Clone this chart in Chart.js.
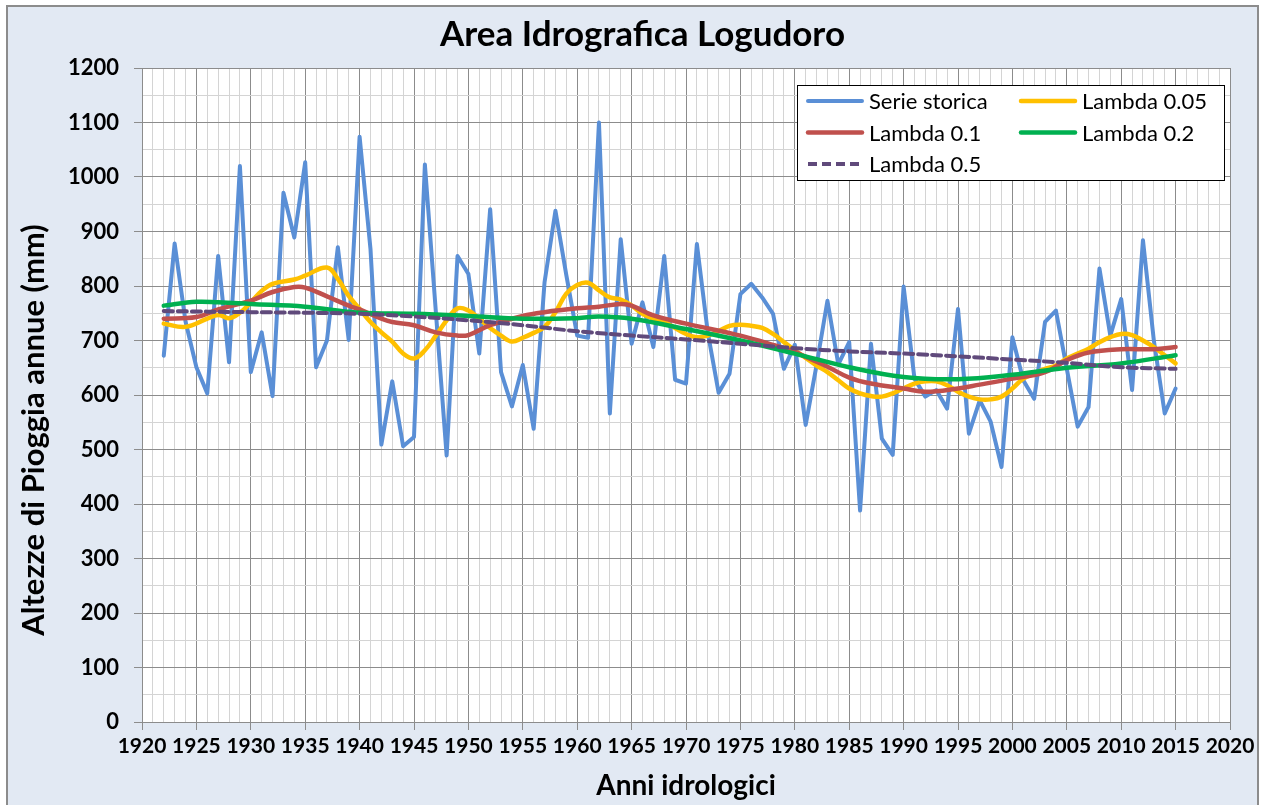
<!DOCTYPE html>
<html>
<head>
<meta charset="utf-8">
<title>Area Idrografica Logudoro</title>
<script src="https://cdn.jsdelivr.net/npm/chart.js@4.4.1/dist/chart.umd.min.js"></script>
<style>
  html, body { margin: 0; padding: 0; background: #ffffff; }
  canvas { display: block; }
</style>
</head>
<body>
<canvas id="grafico" width="1265" height="805"></canvas>
<script>
// === Dati ===
const annoInizio = 1922;
const serieStorica = [
  672, 878, 735, 651, 603, 855, 660, 1020, 642, 715,
  598, 971, 889, 1027, 651, 700, 871, 701, 1074, 868,
  509, 625, 506, 523, 1023, 755, 489, 855, 822, 676,
  941, 642, 579, 655, 538, 807, 938, 820, 709, 705,
  1100, 566, 886, 694, 770, 688, 855, 628, 621, 877,
  715, 604, 639, 785, 804, 779, 749, 648, 692, 545,
  655, 773, 656, 697, 388, 694, 520, 490, 799, 630,
  597, 609, 575, 758, 529, 590, 551, 468, 706, 627,
  593, 734, 755, 648, 542, 578, 832, 709, 776, 609,
  884, 700, 566, 612
];

const anniL005 = [1922, 1924, 1926, 1927, 1928, 1929, 1930, 1931, 1932, 1934, 1935, 1937, 1938, 1939, 1940,
  1941, 1942, 1943, 1944, 1945, 1946, 1947, 1948, 1949, 1950, 1951, 1952, 1953, 1954, 1955, 1956, 1957,
  1958, 1959, 1960, 1961, 1962, 1963, 1964, 1965, 1966, 1967, 1968, 1969, 1970, 1971, 1972, 1973, 1974,
  1975, 1976, 1977, 1978, 1979, 1980, 1981, 1982, 1983, 1984, 1985, 1986, 1987, 1988, 1989, 1990, 1991,
  1992, 1993, 1994, 1995, 1996, 1997, 1998, 1999, 2000, 2001, 2002, 2003, 2004, 2005, 2006, 2007, 2008,
  2009, 2010, 2011, 2012, 2013, 2014, 2015];
const lambda005 = [731, 725, 740, 747, 741, 751, 770, 791, 804, 812, 819, 834, 813, 782, 758,
  734, 715, 698, 676, 667, 682, 709, 737, 759, 755, 740, 723, 709, 698, 705, 714, 725,
  752, 786, 802, 806, 792, 779, 775, 764, 749, 740, 734, 723, 712, 706, 709, 717, 727,
  729, 727, 723, 712, 697, 682, 668, 654, 642, 627, 612, 603, 598, 597, 603, 612, 621,
  625, 625, 618, 606, 597, 592, 592, 597, 612, 630, 639, 648, 654, 667, 676, 685, 697,
  706, 712, 710, 700, 688, 673, 658];

const anniL01 = [1922, 1925, 1927, 1930, 1932, 1934, 1935, 1937, 1939, 1940, 1942, 1943, 1945, 1947, 1949,
  1950, 1952, 1955, 1957, 1960, 1962, 1964, 1965, 1967, 1970, 1975, 1978, 1980, 1981, 1983, 1985, 1987,
  1990, 1992, 1995, 1997, 2000, 2003, 2005, 2007, 2010, 2013, 2015];
const lambda01 = [740, 743, 757, 773, 789, 798, 797, 781, 764, 757, 740, 734, 728, 715, 709,
  710, 728, 745, 752, 759, 762, 767, 764, 746, 731, 709, 692, 679, 670, 652, 632, 621,
  612, 606, 612, 619, 630, 642, 664, 678, 684, 684, 688];

const anniL02 = [1922, 1925, 1927, 1930, 1935, 1940, 1945, 1950, 1955, 1960, 1962, 1965, 1970, 1975, 1980,
  1985, 1990, 1995, 2000, 2005, 2010, 2015];
const lambda02 = [764, 771, 770, 767, 762, 751, 749, 745, 740, 741, 744, 740, 721, 700, 676,
  651, 633, 629, 637, 650, 658, 673];

const anniL05 = [1922, 1930, 1935, 1940, 1945, 1950, 1955, 1960, 1965, 1970, 1975, 1980, 1985, 1990, 1995,
  2000, 2005, 2010, 2015];
const lambda05 = [754, 752, 751, 749, 744, 737, 728, 717, 709, 702, 694, 686, 680, 676, 671,
  665, 659, 651, 648];

const tickAnni = { min: 1920, max: 2020, passo: 1, etichetta: 5 };
const tickValori = { min: 0, max: 1200, passo: 50, etichetta: 100 };
const titoloY = 'Altezze di Pioggia annue (mm)';

// coppie {x, y}
const punti = (anni, valori) => valori.map((v, i) => ({ x: anni[i], y: v }));
const puntiSerie = serieStorica.map((v, i) => ({ x: annoInizio + i, y: v }));

// === Sfondo (cornice azzurra + area bianca) ===
const sfondo = {
  id: 'sfondo',
  beforeDraw(chart) {
    const { ctx, chartArea: a, width, height } = chart;
    ctx.save();
    ctx.fillStyle = '#ffffff';
    ctx.fillRect(0, 0, width, height);
    ctx.fillStyle = '#E2E9F3';
    ctx.fillRect(7, 6, width - 14, height);
    ctx.strokeStyle = '#8C8C8C';
    ctx.lineWidth = 2;
    ctx.strokeRect(7, 6, width - 14, height + 10);
    ctx.fillStyle = '#ffffff';
    ctx.fillRect(a.left, a.top, a.right - a.left, a.bottom - a.top);
    ctx.restore();
  }
};

// titolo asse Y (centrato sulla cornice, come in Excel)
const titoloAsseY = {
  id: 'titoloAsseY',
  afterDraw(chart) {
    const { ctx } = chart;
    ctx.save();
    ctx.translate(34, 430);
    ctx.rotate(-Math.PI / 2);
    ctx.font = 'bold 31px Lato';
    ctx.fillStyle = '#000000';
    ctx.textAlign = 'center';
    ctx.textBaseline = 'middle';
    ctx.fillText(titoloY, 0, 0);
    ctx.restore();
  }
};

// === Legenda interna su due colonne ===
const legendaInterna = {
  id: 'legendaInterna',
  afterDraw(chart) {
    const { ctx, chartArea: a } = chart;
    const box = { x: a.right - 6, y: a.top + 17, w: 427, h: 95 };
    const left = box.x - box.w;
    ctx.save();
    ctx.fillStyle = '#ffffff';
    ctx.fillRect(left, box.y, box.w, box.h);
    ctx.strokeStyle = '#000000';
    ctx.lineWidth = 1;
    ctx.strokeRect(left + 0.5, box.y + 0.5, box.w, box.h);
    ctx.font = '22px Lato';
    ctx.textBaseline = 'middle';
    ctx.fillStyle = '#000000';
    chart.data.datasets.forEach((ds, i) => {
      const col = i % 2, row = Math.floor(i / 2);
      const x0 = left + 11 + col * 213;
      const y0 = box.y + 16 + row * 31.5;
      ctx.beginPath();
      ctx.strokeStyle = ds.borderColor;
      ctx.lineWidth = ds.borderWidth;
      ctx.lineCap = ds.borderDash ? 'butt' : 'round';
      ctx.setLineDash(ds.borderDash || []);
      ctx.moveTo(x0, y0);
      ctx.lineTo(x0 + 54, y0);
      ctx.stroke();
      ctx.setLineDash([]);
      ctx.fillText(ds.label, x0 + 61, y0 + 1);
    });
    ctx.restore();
  }
};

const grigioScuro = '#8C8C8C';
const grigioChiaro = '#D4D4D4';

new Chart(document.getElementById('grafico'), {
  type: 'line',
  data: {
    datasets: [
      { label: 'Serie storica', data: puntiSerie, borderColor: '#5A8FD6', borderWidth: 4, tension: 0, order: 5 },
      { label: 'Lambda 0.05', data: punti(anniL005, lambda005), borderColor: '#FFC000', borderWidth: 4.5, tension: 0.4, order: 4 },
      { label: 'Lambda 0.1', data: punti(anniL01, lambda01), borderColor: '#C0504D', borderWidth: 4.5, tension: 0.4, order: 3 },
      { label: 'Lambda 0.2', data: punti(anniL02, lambda02), borderColor: '#00B050', borderWidth: 4.5, tension: 0.4, order: 2 },
      { label: 'Lambda 0.5', data: punti(anniL05, lambda05), borderColor: '#604A7B', borderWidth: 4, borderDash: [9, 5], tension: 0.4, order: 1 }
    ]
  },
  options: {
    responsive: false,
    animation: false,
    elements: { point: { radius: 0 }, line: { borderCapStyle: 'round', borderJoinStyle: 'round' } },
    layout: { padding: { left: 20, right: 0, top: 0, bottom: 0 } },
    plugins: {
      legend: { display: false },
      tooltip: { enabled: false },
      title: {
        display: true,
        text: 'Area Idrografica Logudoro',
        color: '#000000',
        font: { family: 'Lato', size: 35, weight: 'bold', lineHeight: 1.2 },
        padding: { top: 14, bottom: 12 }
      }
    },
    scales: {
      x: {
        type: 'linear',
        min: tickAnni.min,
        max: tickAnni.max,
        afterFit(scale) { scale.height = 83; scale.paddingRight = 35; },
        border: { color: grigioScuro, width: 1 },
        grid: {
          color: c => c.tick.value % tickAnni.etichetta === 0 ? grigioScuro : grigioChiaro,
          tickColor: c => c.tick.value % tickAnni.etichetta === 0 ? grigioScuro : 'rgba(0,0,0,0)',
          tickLength: 8
        },
        ticks: {
          stepSize: tickAnni.passo,
          autoSkip: false,
          maxRotation: 0,
          minRotation: 0,
          padding: 4,
          color: '#000000',
          font: { family: 'Lato', size: 21, weight: 'bold' },
          callback: v => v % tickAnni.etichetta === 0 ? String(v) : ''
        },
        title: {
          display: true,
          text: 'Anni idrologici',
          color: '#000000',
          font: { family: 'Lato', size: 28, weight: 'bold', lineHeight: 1.2 },
          padding: { top: 0, bottom: 2 }
        }
      },
      y: {
        min: tickValori.min,
        max: tickValori.max,
        afterFit(scale) { scale.width = 122; },
        border: { color: grigioScuro, width: 1 },
        grid: {
          color: c => c.tick.value % tickValori.etichetta === 0 ? grigioScuro : grigioChiaro,
          tickColor: c => c.tick.value % tickValori.etichetta === 0 ? grigioScuro : 'rgba(0,0,0,0)',
          tickLength: 8
        },
        ticks: {
          stepSize: tickValori.passo,
          autoSkip: false,
          padding: 15,
          color: '#000000',
          font: { family: 'Lato', size: 22, weight: 'bold' },
          callback: v => v % tickValori.etichetta === 0 ? String(v) : ''
        },
        title: { display: false }
      }
    }
  },
  plugins: [sfondo, titoloAsseY, legendaInterna]
});
</script>
</body>
</html>
